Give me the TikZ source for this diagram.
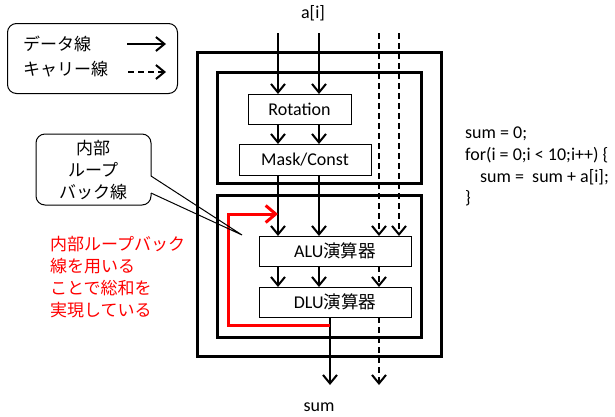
\documentclass[tikz,border=0pt]{standalone}
\usepackage{fontspec}
\setmainfont{Carlito}
\newfontfamily\jp{Noto Sans CJK JP}
\usetikzlibrary{arrows.meta}
\begin{document}
\begin{tikzpicture}[x=1pt,y=-1pt,
  lbl/.style={font=\fontsize{18}{22}\selectfont, inner sep=0pt},
  jpt/.style={font=\jp\fontsize{17}{22}\selectfont, inner sep=0pt},
  thinbox/.style={draw, line width=1pt, inner sep=0pt, outer sep=0pt, anchor=north west, fill=white},
  thickbox/.style={draw, line width=3pt, inner sep=0pt, outer sep=0pt, anchor=north west},
  data/.style={line width=2pt, -{Straight Barb[length=8.5pt,width=14pt]}},
  carry/.style={data, dash pattern=on 6pt off 4pt},
  loopline/.style={red, line width=3pt, -{Straight Barb[length=10pt,width=17pt]}},
]
\useasboundingbox (0,0) rectangle (615,416);

% legend
\node[draw, rounded corners=9pt, line width=1pt, minimum width=170pt, minimum height=70pt, anchor=north west] (legend) at (7,23) {};
\node[jpt, anchor=west] (ldata) at (23,44) {データ線};
\node[jpt, anchor=west] (lcarry) at (23,69) {キャリー線};
\coordinate (lda) at (127,44); \coordinate (ldb) at (166,44);
\coordinate (lca) at (128,72); \coordinate (lcb) at (166,72);
\draw[data] (lda) -- (ldb);
\draw[carry] (lca) -- (lcb);

% boxes
\node[thickbox, minimum width=244pt, minimum height=304pt] (outer) at (197,52) {};
\node[thickbox, minimum width=204pt, minimum height=111pt] (upper) at (217,72) {};
\node[thickbox, minimum width=204pt, minimum height=142pt] (lower) at (217,195) {};
\node[thinbox, minimum width=103pt, minimum height=30pt] (rot) at (248,94) {};
\node[lbl] at (rot.center) {Rotation};
\node[thinbox, minimum width=132pt, minimum height=31pt] (mask) at (239,144) {};
\node[lbl] at (mask.center) {Mask/Const};
\node[thinbox, minimum width=152pt, minimum height=30pt] (alu) at (259,236) {};
\node[lbl] at (alu.center) {ALU{\jp\fontsize{17.5}{20}\selectfont 演算器}};
\node[thinbox, minimum width=152pt, minimum height=30pt] (dlu) at (259,287) {};
\node[lbl] at (dlu.center) {DLU{\jp\fontsize{17.5}{20}\selectfont 演算器}};

% labels
\node[lbl] (ain) at (313,13) {a[i]};
\node[lbl] (sumlbl) at (319,407) {sum};

% line positions
\coordinate (xa) at (278,33);
\coordinate (xb) at (319,33);
\coordinate (xc) at (379,33);
\coordinate (xd) at (399,33);
\coordinate (oa) at (330,385);
\coordinate (ob) at (379,385);

% data lines
\draw[data] (xa) -- (xa |- rot.north);
\draw[data] (xb) -- (xb |- rot.north);
\draw[data] (xa |- rot.south) -- (xa |- mask.north);
\draw[data] (xb |- rot.south) -- (xb |- mask.north);
\draw[data] (xa |- mask.south) -- (xa |- alu.north);
\draw[data] (xb |- mask.south) -- (xb |- alu.north);
\draw[carry] (xc) -- (xc |- alu.north);
\draw[carry] (xd) -- (xd |- alu.north);
\draw[data] (xa |- alu.south) -- (xa |- dlu.north);
\draw[data] (xb |- alu.south) -- (xb |- dlu.north);
\draw[carry] (xc |- alu.south) -- (xc |- dlu.north);
\draw[data] (oa |- dlu.south) -- (oa);
\draw[carry] (ob |- dlu.south) -- (ob);

% loopback
\coordinate (rs) at (330,325);
\coordinate (rc1) at (228,325);
\coordinate (rc2) at (228,214);
\draw[loopline] (rs) -- (rc1) -- (rc2) -- (xa |- rc2);

% callout
\draw[line width=1pt, fill=white, rounded corners=9pt] (151,176) -- (151,134) -- (36,134) -- (36,205) -- (151,205) -- (151,193);
\coordinate (tip) at (242,235);
\draw[line width=1pt] (151,176) -- (tip) -- (151,193);
\node[jpt, align=center] (callout) at (93,170) {内部\\ループ\\バック線};

% red note
\node[jpt, red, anchor=west] (r1) at (50,244) {内部ループバック};
\node[jpt, red, anchor=west] (r2) at (50,266) {線を用いる};
\node[jpt, red, anchor=west] (r3) at (50,288) {ことで総和を};
\node[jpt, red, anchor=west] (r4) at (50,310) {実現している};

% code
\node[lbl, anchor=base west] (c1) at (465,138) {sum = 0;};
\node[lbl, anchor=base west] (c2) at (465,160) {for(i = 0;i < 10;i++) \{};
\node[lbl, anchor=base west] (c3) at (480,182) {sum =\ \ sum + a[i];};
\node[lbl, anchor=base west] (c4) at (465,203) {\}};
\end{tikzpicture}
\end{document}
